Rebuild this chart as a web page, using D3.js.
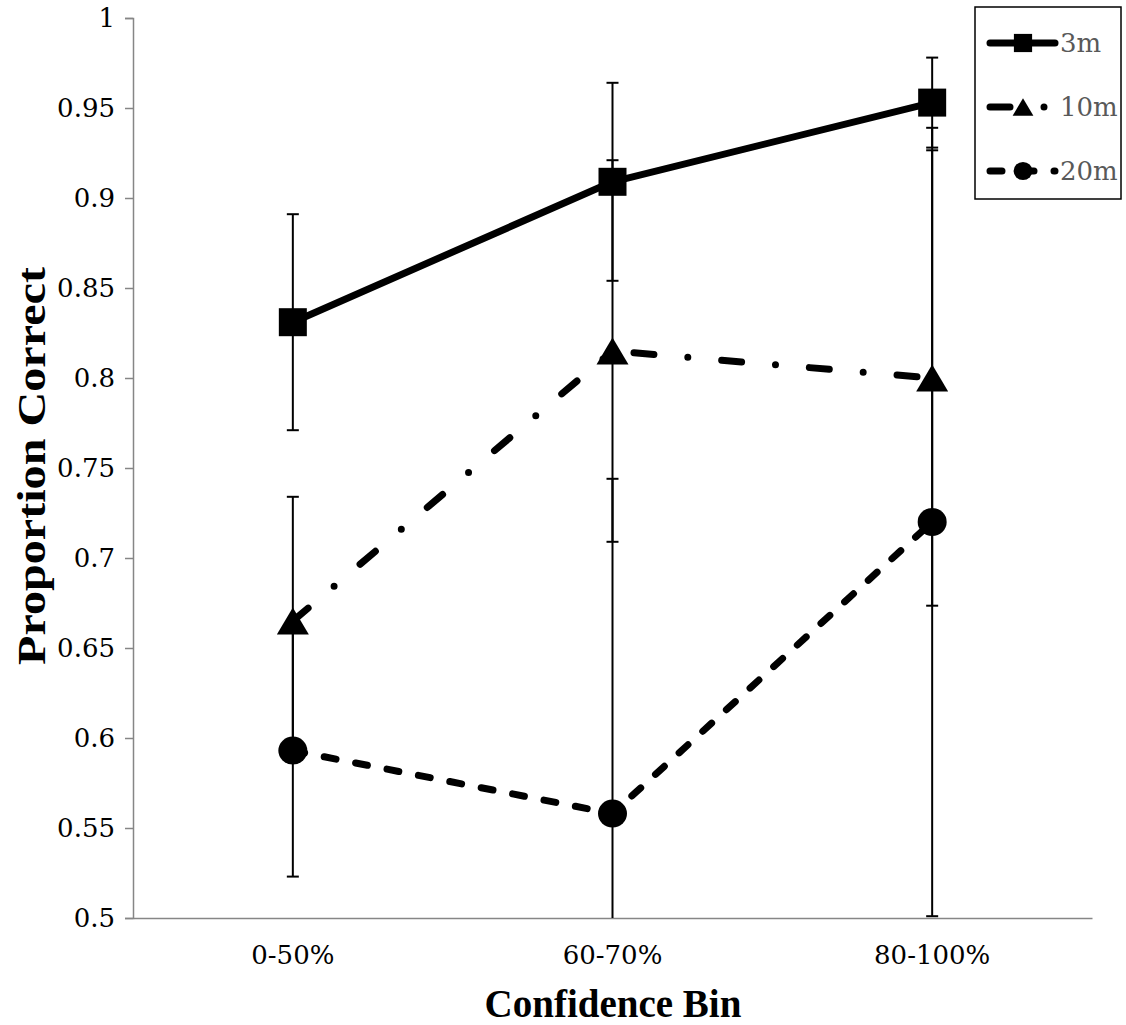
<html>
    <script src="https://d3js.org/d3.v7.min.js"></script>
    <head>
        <style>
        body { margin: 0; background: white; }
        .tick-label {
            font-family: "DejaVu Serif", serif;
            font-size: 26px;
            fill: black;
        }
        .axis-title {
            font-family: "Liberation Serif", serif;
            font-weight: bold;
            font-size: 39px;
            fill: black;
        }
        .legend-label {
            font-family: "DejaVu Serif", serif;
            font-size: 26px;
            fill: #595959;
        }
        </style>
    </head>
    <body onload='init()'>
        <div id="chart"></div>

        <script>
            // data
            var categories = ["0-50%", "60-70%", "80-100%"];
            var seriesNames = ["3m", "10m", "20m"];
            var values3m  = [0.831, 0.909, 0.953];
            var values10m = [0.665, 0.815, 0.800];
            var values20m = [0.593, 0.558, 0.720];
            var err3m  = [0.060, 0.055, 0.025];
            var err10m = [0.069, 0.106, 0.1265];
            var err20m = [0.070, 0.186, 0.219];
            var yTicks = [0.5, 0.55, 0.6, 0.65, 0.7, 0.75, 0.8, 0.85, 0.9, 0.95, 1];

            function init(){
                var width = 1126;
                var height = 1025;

                var series = [
                    {name: seriesNames[0], values: values3m,  err: err3m,  dash: null,           marker: "square"},
                    {name: seriesNames[1], values: values10m, err: err10m, dash: "20,34,0,34",   marker: "triangle"},
                    {name: seriesNames[2], values: values20m, err: err20m, dash: "12,20",        marker: "circle"}
                ];

                var x = d3.scaleBand()
                    .domain(categories)
                    .range([133, 1092]);
                var y = d3.scaleLinear()
                    .domain([0.5, 1])
                    .range([918, 18]);

                var svg = d3.select("#chart")
                    .append("svg")
                    .attr("width", width)
                    .attr("height", height);

                var cx = d => x(d) + x.bandwidth()/2;

                // y axis
                var yaxis = d3.axisLeft(y)
                    .tickValues(yTicks)
                    .tickSize(8)
                    .tickPadding(10)
                    .tickFormat(d3.format("~g"));
                var ya = svg.append("g")
                    .attr("transform", "translate(133,0)")
                    .call(yaxis);
                ya.select(".domain").attr("stroke", "#868686").attr("stroke-width", 1.5);
                ya.selectAll(".tick line").attr("stroke", "#868686").attr("stroke-width", 1.5);
                ya.selectAll(".tick text")
                    .attr("class", "tick-label")
                    .attr("font-family", null)
                    .attr("font-size", null)
                    .attr("fill", null);

                // x axis
                var xaxis = d3.axisBottom(x).tickSize(0).tickPadding(28);
                var xa = svg.append("g")
                    .attr("transform", "translate(0,918)")
                    .call(xaxis);
                xa.select(".domain").attr("stroke", "#868686").attr("stroke-width", 1.5);
                xa.selectAll(".tick text")
                    .attr("class", "tick-label")
                    .attr("font-family", null)
                    .attr("font-size", null)
                    .attr("fill", null);

                // error bars
                series.forEach(function(s){
                    categories.forEach(function(c, i){
                        var hi = s.values[i] + s.err[i];
                        var lo = s.values[i] - s.err[i];
                        var yhi = y(Math.min(hi, 1));
                        var ylo = y(Math.max(lo, 0.5));
                        svg.append("line")
                            .attr("x1", cx(c)).attr("x2", cx(c))
                            .attr("y1", yhi).attr("y2", ylo)
                            .attr("stroke", "black")
                            .attr("stroke-width", 2);
                        [hi, lo].forEach(function(v){
                            if (v >= 0.5 && v <= 1) {
                                svg.append("line")
                                    .attr("x1", cx(c) - 6).attr("x2", cx(c) + 6)
                                    .attr("y1", y(v)).attr("y2", y(v))
                                    .attr("stroke", "black")
                                    .attr("stroke-width", 2);
                            }
                        });
                    });
                });

                // series lines
                var line = d3.line()
                    .x((d, i) => cx(categories[i]))
                    .y(d => y(d));

                series.forEach(function(s){
                    svg.append("path")
                        .datum(s.values)
                        .attr("d", line)
                        .attr("fill", "none")
                        .attr("stroke", "black")
                        .attr("stroke-width", 7)
                        .attr("stroke-linecap", "round")
                        .attr("stroke-linejoin", "round")
                        .attr("stroke-dasharray", s.dash);
                });

                function drawMarker(g, type, px, py, k){
                    if (type == "square") {
                        g.append("rect")
                            .attr("x", px - 14*k).attr("y", py - 14*k)
                            .attr("width", 28*k).attr("height", 28*k)
                            .attr("fill", "black");
                    } else if (type == "triangle") {
                        g.append("path")
                            .attr("d", "M" + px + "," + (py - 13.5*k) +
                                       " L" + (px + 16*k) + "," + (py + 13.5*k) +
                                       " L" + (px - 16*k) + "," + (py + 13.5*k) + " Z")
                            .attr("fill", "black");
                    } else {
                        g.append("ellipse")
                            .attr("cx", px).attr("cy", py)
                            .attr("rx", 14.5*k).attr("ry", 14*k)
                            .attr("fill", "black");
                    }
                }

                // markers
                series.forEach(function(s){
                    s.values.forEach(function(v, i){
                        drawMarker(svg, s.marker, cx(categories[i]), y(v), 1);
                    });
                });

                // legend
                var legend = svg.append("g");
                legend.append("rect")
                    .attr("x", 975).attr("y", 7)
                    .attr("width", 146).attr("height", 192)
                    .attr("fill", "white")
                    .attr("stroke", "black")
                    .attr("stroke-width", 1.5);

                series.forEach(function(s, i){
                    var ly = 43 + i*64;
                    legend.append("line")
                        .attr("x1", 990).attr("x2", 1055)
                        .attr("y1", ly).attr("y2", ly)
                        .attr("stroke", "black")
                        .attr("stroke-width", 7)
                        .attr("stroke-linecap", "round")
                        .attr("stroke-dasharray", s.dash);
                    drawMarker(legend, s.marker, 1023, ly, 0.65);
                    legend.append("text")
                        .attr("class", "legend-label")
                        .attr("x", 1060)
                        .attr("y", ly)
                        .attr("dy", "0.36em")
                        .text(s.name);
                });

                // axis titles
                svg.append("text")
                    .attr("class", "axis-title")
                    .attr("text-anchor", "middle")
                    .attr("x", 613)
                    .attr("y", 1017)
                    .text("Confidence Bin");

                svg.append("text")
                    .attr("class", "axis-title")
                    .attr("text-anchor", "middle")
                    .attr("transform", "translate(45,466) rotate(-90)")
                    .attr("textLength", 398)
                    .attr("lengthAdjust", "spacingAndGlyphs")
                    .text("Proportion Correct");
            }
        </script>
    </body>
</html>
